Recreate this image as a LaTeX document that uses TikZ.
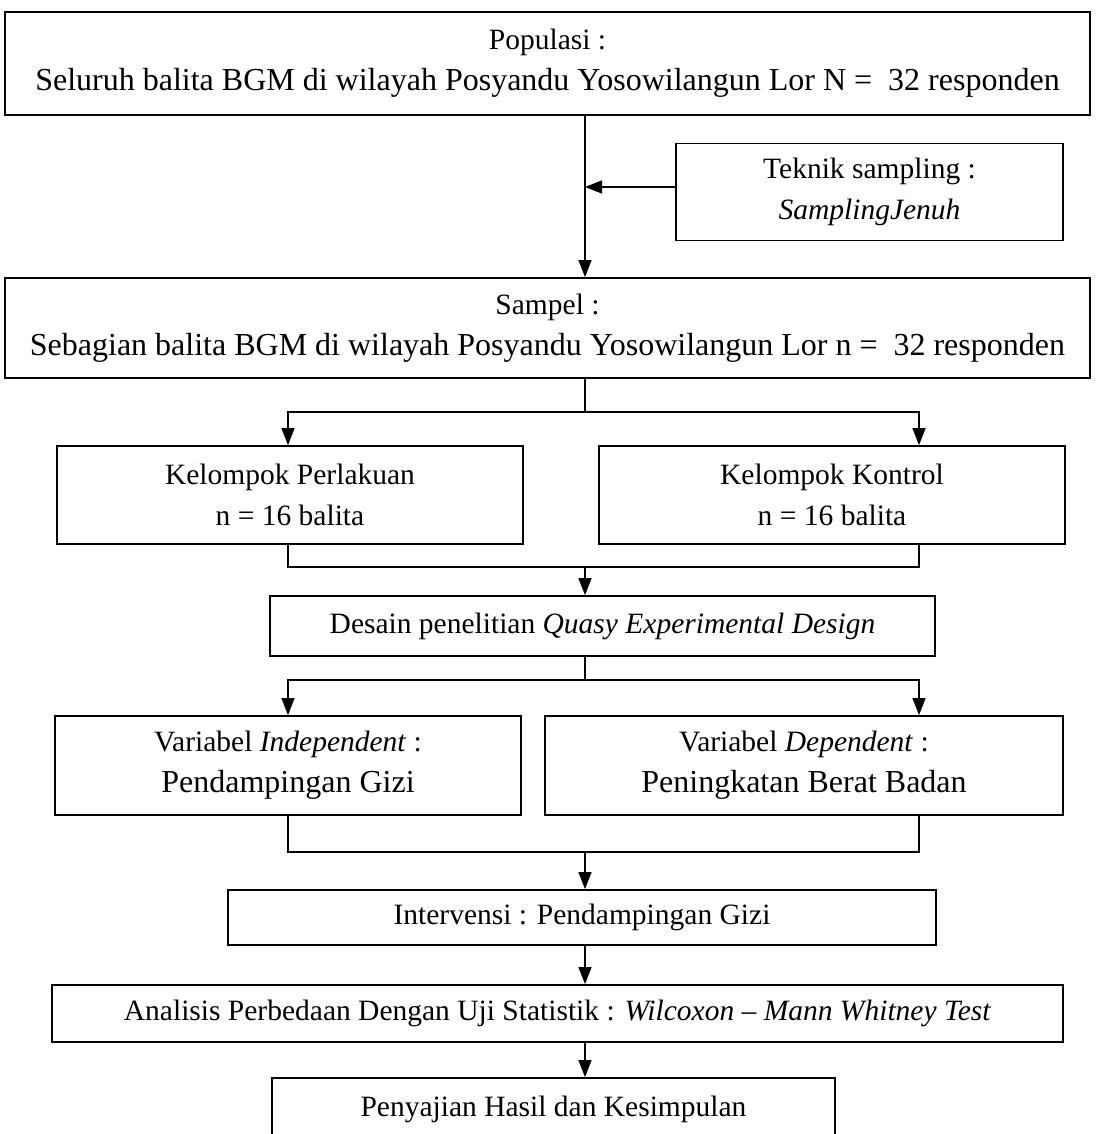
\documentclass[tikz,border=0pt]{standalone}
\usepackage{fontspec}
\setmainfont{Liberation Serif}
\usetikzlibrary{arrows.meta,calc}
\newcommand{\nfs}{\fontsize{29.5}{41}\selectfont}
\newcommand{\bfs}{\fontsize{32}{41}\selectfont}
\tikzset{
  box/.style={draw, line width=1.8pt, inner sep=0pt, align=center, font=\nfs},
  conn/.style={line width=1.3pt},
  arr/.style={line width=1.3pt, -{Triangle[width=13pt,length=17pt]}}
}
\begin{document}
\begin{tikzpicture}[x=1pt,y=-1pt]
\useasboundingbox (0,0) rectangle (1095,1134);
\clip (0,0) rectangle (1095,1134);
\fill[white] (0,0) rectangle (1095,1134);

\coordinate (spine) at (585,0);
\coordinate (colL) at (288,0);
\coordinate (colR) at (919,0);

\node[box, minimum width=1085pt, minimum height=103pt] (pop) at (547.5,63.5)
  {Populasi :\\\bfs Seluruh balita BGM di wilayah Posyandu Yosowilangun Lor N =\ \ 32 responden};
\node[box, minimum width=387pt, minimum height=97pt] (tek) at (869.5,192)
  {Teknik sampling :\\\textit{SamplingJenuh}};
\node[box, minimum width=1085pt, minimum height=100pt] (samp) at (547.5,328)
  {Sampel :\\\bfs Sebagian balita BGM di wilayah Posyandu Yosowilangun Lor n =\ \ 32 responden};
\node[box, minimum width=466pt, minimum height=98pt] (perl) at (290,495)
  {Kelompok Perlakuan\\n = 16 balita};
\node[box, minimum width=466pt, minimum height=98pt] (kont) at (832,495)
  {Kelompok Kontrol\\n = 16 balita};
\node[box, minimum width=665pt, minimum height=60pt] (des) at (602.5,626)
  {Desain penelitian \textit{Quasy Experimental Design}};
\node[box, minimum width=466pt, minimum height=99pt] (ind) at (288,765.5)
  {Variabel \textit{Independent} :\\\bfs Pendampingan Gizi};
\node[box, minimum width=518pt, minimum height=99pt] (dep) at (804,765.5)
  {Variabel \textit{Dependent} :\\\bfs Peningkatan Berat Badan};
\node[box, minimum width=708pt, minimum height=55pt] (int) at (582,917.5)
  {Intervensi : Pendampingan Gizi};
\node[box, minimum width=1011pt, minimum height=57pt] (ana) at (557.5,1013.5)
  {Analisis Perbedaan Dengan Uji Statistik : \textit{Wilcoxon -- Mann Whitney Test}};
\node[box, minimum width=563pt, minimum height=62pt] (pen) at (553.5,1109)
  {Penyajian Hasil dan Kesimpulan};

\coordinate (split1) at (585,412);
\coordinate (merge1) at (585,567);
\coordinate (split2) at (585,680);
\coordinate (merge2) at (585,852);

\draw[arr] (pop.south -| spine) -- (samp.north -| spine);
\draw[arr] (tek.west |- 0,187) -- (spine |- 0,187);

\draw[conn] (samp.south -| spine) -- (split1);
\draw[arr] (split1) -| (perl.north -| colL);
\draw[arr] (split1) -| (kont.north -| colR);

\draw[conn] (perl.south -| colL) |- (merge1);
\draw[conn] (kont.south -| colR) |- (merge1);
\draw[arr] (merge1) -- (des.north -| spine);

\draw[conn] (des.south -| spine) -- (split2);
\draw[arr] (split2) -| (ind.north -| colL);
\draw[arr] (split2) -| (dep.north -| colR);

\draw[conn] (ind.south -| colL) |- (merge2);
\draw[conn] (dep.south -| colR) |- (merge2);
\draw[arr] (merge2) -- (int.north -| spine);

\draw[arr] (int.south -| spine) -- (ana.north -| spine);
\draw[arr] (ana.south -| spine) -- (pen.north -| spine);
\end{tikzpicture}
\end{document}
